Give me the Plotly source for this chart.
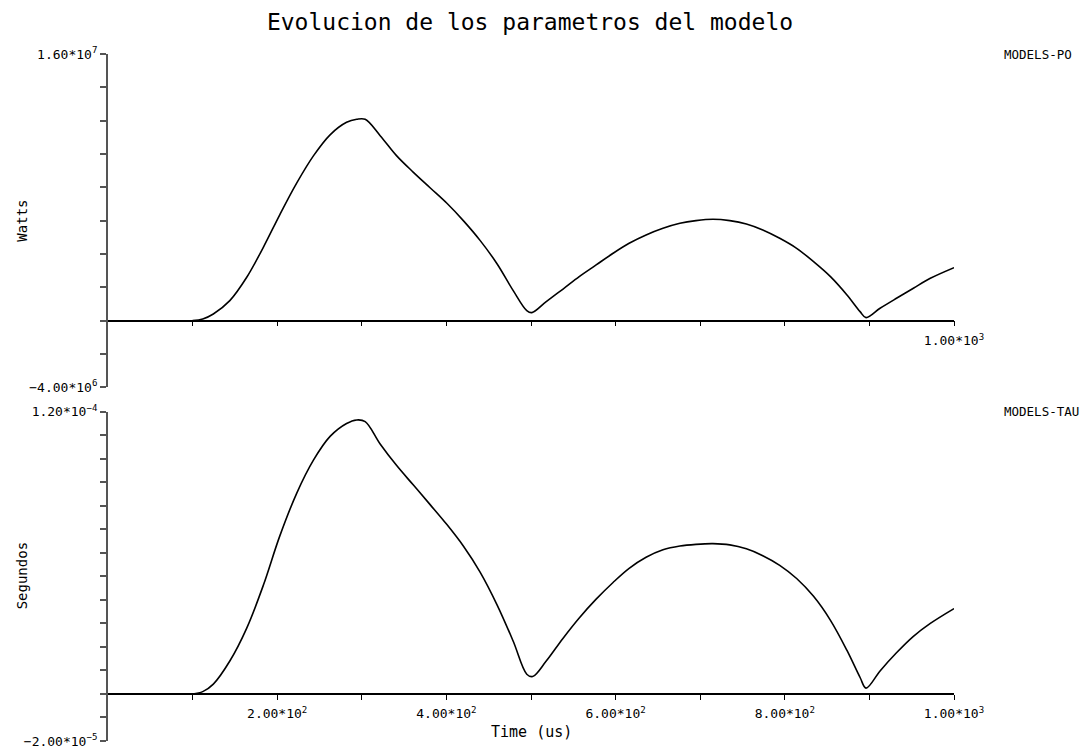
import plotly.graph_objects as go

# Model parameter PO (Watts) versus time (us)
t_po = [100, 112, 124.5, 144, 164, 183.6, 203, 223, 243, 262.5, 282, 294, 304,
        321.7, 341, 361, 381, 400.6, 420, 440, 460, 479, 495, 501,
        518, 537.5, 557, 577, 597, 616, 636, 656, 676, 695, 715, 735, 754.6,
        774, 794, 814, 834, 854, 873.5, 889, 896,
        912.6, 932, 952, 972, 1000]
po = [0.0, 0.1e6, 0.4e6, 1.2e6, 2.6e6, 4.4e6, 6.35e6, 8.25e6, 9.9e6, 11.15e6, 11.9e6, 12.08e6, 12.08e6,
      11.1e6, 9.9e6, 8.9e6, 7.96e6, 7.04e6, 6.0e6, 4.8e6, 3.4e6, 1.8e6, 0.6e6, 0.48e6,
      1.14e6, 1.88e6, 2.64e6, 3.34e6, 4.04e6, 4.64e6, 5.14e6, 5.54e6, 5.84e6, 6.0e6, 6.08e6, 6.0e6, 5.8e6,
      5.44e6, 4.94e6, 4.34e6, 3.54e6, 2.64e6, 1.54e6, 0.54e6, 0.18e6,
      0.74e6, 1.34e6, 1.94e6, 2.54e6, 3.18e6]

# Model parameter TAU (Segundos) versus time (us)
t_tau = [100, 112, 124.5, 144, 164, 183.6, 203, 223, 243, 262.5, 282, 294, 304,
         321.7, 341, 361, 381, 400.6, 420, 440, 460, 479, 495, 502,
         518, 537.5, 557, 577, 597, 616, 636, 656, 676, 695, 715, 735, 754.6,
         774, 794, 814, 834, 854, 873.5, 889, 896,
         912.6, 932, 952, 972, 1000]
tau = [0.0, 0.1e-5, 0.42e-5, 1.4e-5, 2.8e-5, 4.62e-5, 6.71e-5, 8.53e-5, 9.95e-5, 10.95e-5, 11.5e-5, 11.65e-5, 11.58e-5,
       10.63e-5, 9.72e-5, 8.88e-5, 8.04e-5, 7.2e-5, 6.29e-5, 5.17e-5, 3.78e-5, 2.24e-5, 0.84e-5, 0.74e-5,
       1.4e-5, 2.35e-5, 3.23e-5, 4.03e-5, 4.74e-5, 5.34e-5, 5.81e-5, 6.13e-5, 6.29e-5, 6.36e-5, 6.39e-5, 6.34e-5, 6.17e-5,
       5.88e-5, 5.47e-5, 4.91e-5, 4.15e-5, 3.13e-5, 1.85e-5, 0.7e-5, 0.25e-5,
       0.98e-5, 1.75e-5, 2.45e-5, 3.0e-5, 3.63e-5]

# Axis ticks and their labels
x_ticks = [100, 200, 300, 400, 500, 600, 700, 800, 900, 1000]
x_labels_bottom = ["", "2.00*10<sup>2</sup>", "", "4.00*10<sup>2</sup>", "", "6.00*10<sup>2</sup>",
                   "", "8.00*10<sup>2</sup>", "", "1.00*10<sup>3</sup>"]
x_labels_top = ["", "", "", "", "", "", "", "", "", "1.00*10<sup>3</sup>"]
po_ticks = [-4e6 + 2e6 * i for i in range(11)]
po_labels = ["\u22124.00*10<sup>6</sup>"] + [""] * 9 + ["1.60*10<sup>7</sup>"]
tau_ticks = [-2e-5 + 1e-5 * i for i in range(15)]
tau_labels = ["\u22122.00*10<sup>\u22125</sup>"] + [""] * 13 + ["1.20*10<sup>\u22124</sup>"]

po_range = [-4e6, 1.6e7]
tau_range = [-2e-5, 1.2e-4]
top_dom = [0.5149, 1.0]
bot_dom = [0.0, 0.4793]

FONT = "DejaVu Sans Mono"
AXIS_GRAY = "#555555"


def zero_pos(dom, rng):
    # paper fraction where the value 0 sits inside a vertical domain
    frac = (0 - rng[0]) / (rng[1] - rng[0])
    return dom[0] + frac * (dom[1] - dom[0])


fig = go.Figure()
fig.add_trace(go.Scatter(x=t_po, y=po, mode="lines", xaxis="x2", yaxis="y2",
                         line=dict(color="black", width=1.6, shape="spline", smoothing=1.0),
                         showlegend=False))
fig.add_trace(go.Scatter(x=t_tau, y=tau, mode="lines", xaxis="x", yaxis="y",
                         line=dict(color="black", width=1.6, shape="spline", smoothing=1.0),
                         showlegend=False))

xcommon = dict(range=[0, 1000], showgrid=False, zeroline=False, showline=True,
               linecolor="black", linewidth=1.5, ticks="outside", ticklen=5,
               tickcolor="black", tickwidth=1, tickvals=x_ticks, automargin=False,
               ticklabelstandoff=3, ticklabeloverflow="allow",
               tickfont=dict(family=FONT, size=13, color="black"), domain=[0, 1])
ycommon = dict(showgrid=False, zeroline=False, showline=True, linecolor=AXIS_GRAY,
               linewidth=2, ticks="outside", ticklen=6, tickcolor=AXIS_GRAY, tickwidth=1.5,
               automargin=False, ticklabeloverflow="allow",
               tickfont=dict(family=FONT, size=13, color="black"))

fig.update_layout(
    width=1083, height=751,
    margin=dict(l=108, r=129, t=54, b=10),
    paper_bgcolor="white", plot_bgcolor="white",
    title=dict(text="Evolucion de los parametros del modelo", x=530 / 1083, xanchor="center",
               y=1 - 22 / 751, yanchor="middle", automargin=False,
               font=dict(family=FONT, size=23, color="black")),
    xaxis=dict(**xcommon, anchor="free", position=zero_pos(bot_dom, tau_range),
               ticktext=x_labels_bottom),
    xaxis2=dict(**xcommon, anchor="free", position=zero_pos(top_dom, po_range),
                ticktext=x_labels_top),
    yaxis=dict(**ycommon, domain=bot_dom, range=tau_range, anchor="x",
               tickvals=tau_ticks, ticktext=tau_labels),
    yaxis2=dict(**ycommon, domain=top_dom, range=po_range, anchor="x2",
                tickvals=po_ticks, ticktext=po_labels),
    annotations=[
        dict(text="MODELS-PO", xref="paper", yref="paper", x=(1002 - 108) / 846, y=top_dom[1],
             xanchor="left", yanchor="middle", showarrow=False,
             font=dict(family=FONT, size=12.5, color="black")),
        dict(text="MODELS-TAU", xref="paper", yref="paper", x=(1002 - 108) / 846, y=bot_dom[1],
             xanchor="left", yanchor="middle", showarrow=False,
             font=dict(family=FONT, size=12.5, color="black")),
        dict(text="Watts", xref="paper", yref="paper", x=(22 - 108) / 846,
             y=(top_dom[0] + top_dom[1]) / 2, textangle=-90, xanchor="center",
             yanchor="middle", showarrow=False,
             font=dict(family=FONT, size=14, color="black")),
        dict(text="Segundos", xref="paper", yref="paper", x=(22 - 108) / 846,
             y=(bot_dom[0] + bot_dom[1]) / 2, textangle=-90, xanchor="center",
             yanchor="middle", showarrow=False,
             font=dict(family=FONT, size=14, color="black")),
        dict(text="Time (us)", xref="paper", yref="paper", x=0.5, y=0.013,
             xanchor="center", yanchor="middle", showarrow=False,
             font=dict(family=FONT, size=15, color="black")),
    ],
)

fig.write_html("out.html")
